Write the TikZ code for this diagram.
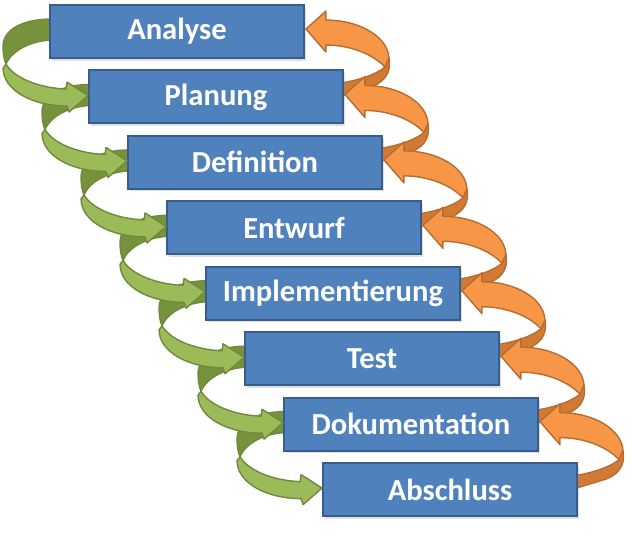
\documentclass[tikz,border=0pt]{standalone}
\usepackage{fontspec}
\setmainfont{Carlito}
\usetikzlibrary{shadows}
\definecolor{boxblue}{HTML}{4F81BD}
\definecolor{boxline}{HTML}{385D8A}
\definecolor{greenlight}{HTML}{9BBB59}
\definecolor{greendark}{HTML}{76923C}
\definecolor{greenline}{HTML}{71893F}
\definecolor{orangelight}{HTML}{F79646}
\definecolor{orangedark}{HTML}{D27A34}
\definecolor{orangeline}{HTML}{B66D31}
\pgfdeclarelayer{back}
\pgfsetlayers{back,main}
\tikzset{
  phase/.style={draw=boxline, fill=boxblue, line width=1.1pt, minimum width=5.08cm,
    minimum height=1.06cm, inner sep=0pt, text=white,
    font=\bfseries\fontsize{17.4}{20}\selectfont,
    drop shadow={shadow xshift=1.2pt, shadow yshift=-1.5pt, opacity=.25}},
  ribbon/.style={line width=0.8pt, line join=round},
  greenback/.pic={
    \filldraw[ribbon, fill=greendark, draw=greenline] (2,15) .. controls (-25,15) and (-46,25) .. (-46,42)
      .. controls (-46,50) and (-45,56) .. (-43,60) .. controls (-37,46) and (-18,37) .. (2,36) -- cycle;},
  greenfront/.pic={
    \filldraw[ribbon, fill=greenlight, draw=greenline] (-43,60) .. controls (-35,74) and (-10,84) .. (17,85)
      -- (18,78) -- (39,91.5) -- (20,108) -- (18,102) .. controls (-17,102) and (-46,86) .. (-46,64) -- cycle;},
  orangeback/.pic={
    \filldraw[ribbon, fill=orangedark, draw=orangeline] (84,54) .. controls (87,70) and (78,80) .. (62,84)
      -- (36,92) -- (36,79) .. controls (55,76) and (72,70) .. (80,63) -- cycle;},
  orangefront/.pic={
    \filldraw[ribbon, fill=orangelight, draw=orangeline] (1,25) -- (21,7) -- (21,16)
      .. controls (55,16) and (83,33) .. (84,54) -- (80,63) .. controls (68,50) and (45,41) .. (21,41)
      -- (21,48) -- cycle;}
}
\begin{document}
\begin{tikzpicture}[x=0.02cm, y=-0.02cm]
  \useasboundingbox (0,0) rectangle (635,540);
  \foreach \name [count=\i from 0] in {Analyse,Planung,Definition,Entwurf,Implementierung,Test,Dokumentation,Abschluss}
    \node[phase] (p\i) at (177+39*\i, 31.5+65.43*\i) {\name};
  \begin{pgfonlayer}{back}
    \foreach \i in {0,...,6} {
      \pic at (p\i.north west) {greenback};
      \pic at (p\i.north east) {orangeback};
    }
  \end{pgfonlayer}
  \foreach \i in {0,...,6} {
    \pic at (p\i.north west) {greenfront};
    \pic at (p\i.north east) {orangefront};
  }
\end{tikzpicture}
\end{document}
